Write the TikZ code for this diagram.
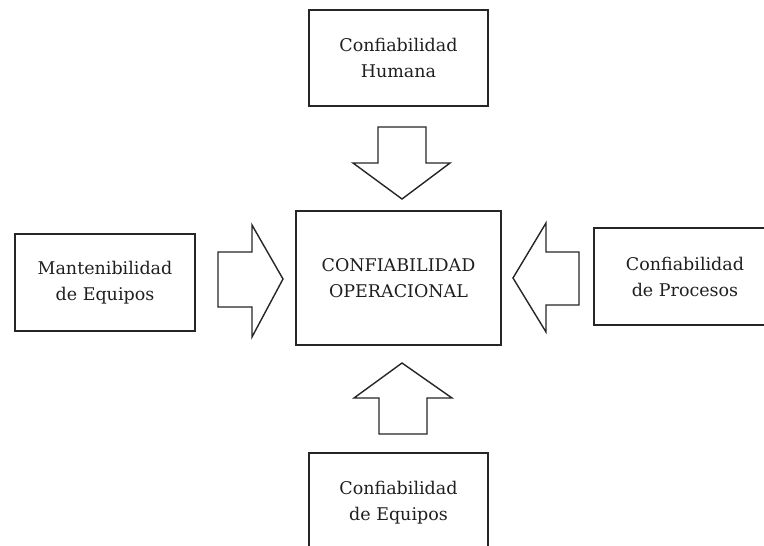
\documentclass[tikz,border=0pt]{standalone}
\usepackage{fontspec}
\setmainfont{DejaVu Serif}
\begin{document}
\begin{tikzpicture}[x=1pt,y=-1pt,
  box/.style={draw=black!85, line width=1.8pt, align=center, inner sep=0pt,
    font=\fontsize{17.5}{26}\selectfont, text=black!88},
  blockarrow/.style={draw=black!85, line width=1.4pt, line join=miter, fill=white}]
\useasboundingbox (0,0) rectangle (764,546);
% boxes
\node[box, minimum width=179pt, minimum height=96pt] (top) at (398.5,58) {Confiabilidad\\Humana};
\node[box, minimum width=205pt, minimum height=134pt] (center) at (398.5,278) {CONFIABILIDAD\\OPERACIONAL};
\node[box, minimum width=180pt, minimum height=97pt] (left) at (105,282.5) {Mantenibilidad\\de Equipos};
\node[box, minimum width=182pt, minimum height=97pt] (right) at (685,276.5) {Confiabilidad\\de Procesos};
\node[box, minimum width=179pt, minimum height=100pt] (bottom) at (398.5,503) {Confiabilidad\\de Equipos};
% block arrows
\draw[blockarrow] (378,127) -- (426,127) -- (426,163) -- (450,163) -- (402,199) -- (353,163) -- (378,163) -- cycle;
\draw[blockarrow] (379,434) -- (427,434) -- (427,398) -- (452,398) -- (402,363) -- (354,398) -- (379,398) -- cycle;
\draw[blockarrow] (218,252) -- (252,252) -- (252,225) -- (283,279) -- (252,337) -- (252,307) -- (218,307) -- cycle;
\draw[blockarrow] (579,252) -- (546,252) -- (546,223) -- (513,278) -- (546,332) -- (546,305) -- (579,305) -- cycle;
\end{tikzpicture}
\end{document}
